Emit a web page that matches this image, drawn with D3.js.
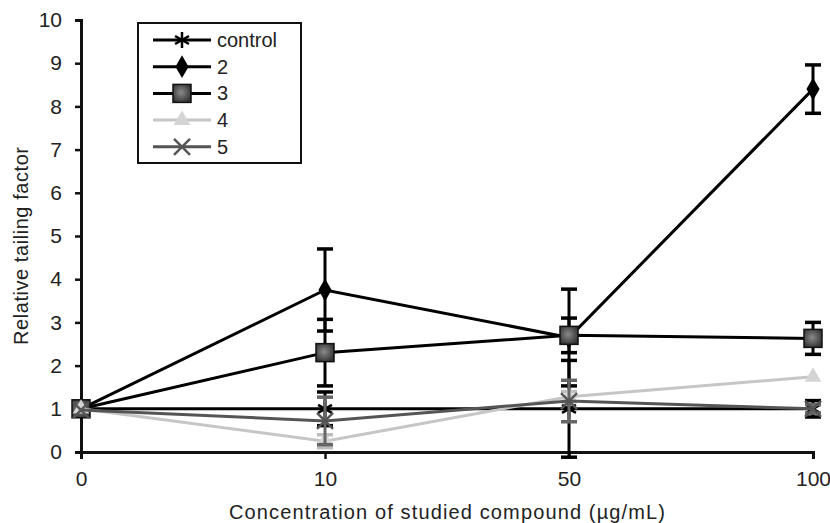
<!DOCTYPE html>
<html>
<head>
<meta charset="utf-8">
<script src="https://cdn.jsdelivr.net/npm/d3@7"></script>
<style>
  body { margin: 0; background: #fff; }
  text { font-family: "Liberation Sans", Arial, sans-serif; fill: #222; }
</style>
</head>
<body>
<div id="chart"></div>
<script>
// concentrations (categorical, equally spaced)
var concentrations = ["0", "10", "50", "100"];
var yTicks = [0, 1, 2, 3, 4, 5, 6, 7, 8, 9, 10];

var controlValues = [1, 1, 1, 1];
var controlErrors = [0, 0.39, 1.12, 0.19];
var s2Values = [1, 3.75, 2.65, 8.4];
var s2Errors = [0, 0.95, 1.12, 0.56];
var s3Values = [1, 2.3, 2.7, 2.63];
var s3Errors = [0, 0.77, 0.4, 0.37];
var s4Values = [1, 0.25, 1.28, 1.74];
var s4Errors = [0, 0.15, 0.12, 0];
var s5Values = [0.97, 0.72, 1.18, 1.0];
var s5Errors = [0, 0.55, 0.48, 0.1];

var seriesNames = ["control", "2", "3", "4", "5"];

var margin = {top: 20, right: 17, bottom: 71, left: 81};
var W = 830, H = 523;
var width = W - margin.left - margin.right;
var height = H - margin.top - margin.bottom;

var svg = d3.select("#chart").append("svg")
    .attr("width", W).attr("height", H);

var defs = svg.append("defs");
var grad = defs.append("radialGradient").attr("id", "sqGrad")
    .attr("cx", "45%").attr("cy", "45%").attr("r", "60%");
grad.append("stop").attr("offset", "0%").attr("stop-color", "#8a8a8a");
grad.append("stop").attr("offset", "100%").attr("stop-color", "#333");

var x = d3.scalePoint().domain(concentrations).range([0, width]);
var y = d3.scaleLinear().domain([0, 10]).range([height, 0]);

var plot = svg.append("g")
    .attr("transform", "translate(" + margin.left + "," + margin.top + ")");

// axes
var yAxis = plot.append("g")
    .call(d3.axisLeft(y).tickValues(yTicks).tickSize(6).tickPadding(13).tickFormat(d3.format("d")));
var xAxis = plot.append("g")
    .attr("transform", "translate(0," + height + ")")
    .call(d3.axisBottom(x).tickSize(7).tickPadding(12));
[yAxis, xAxis].forEach(function(a) {
    a.select(".domain").attr("stroke", "#111").attr("stroke-width", 3);
    a.selectAll(".tick line").attr("stroke", "#111").attr("stroke-width", 2.5);
    a.selectAll(".tick text").attr("font-size", 21).style("font-family", "Liberation Sans, Arial, sans-serif").attr("fill", "#222");
});

svg.append("text")
    .attr("transform", "translate(28," + (margin.top + height / 2 + 10) + ") rotate(-90)")
    .attr("text-anchor", "middle")
    .attr("font-size", 20)
    .attr("textLength", 198)
    .text("Relative tailing factor");
svg.append("text")
    .attr("x", margin.left + width / 2)
    .attr("y", 519)
    .attr("text-anchor", "middle")
    .attr("font-size", 20)
    .attr("textLength", 436)
    .text("Concentration of studied compound (\u00b5g/mL)");

var series = [
    {name: "control", values: controlValues, errors: controlErrors, line: "#000", bar: "#000", lw: 3, marker: "asterisk"},
    {name: "2", values: s2Values, errors: s2Errors, line: "#000", bar: "#000", lw: 3, marker: "diamond"},
    {name: "3", values: s3Values, errors: s3Errors, line: "#000", bar: "#000", lw: 3, marker: "square"},
    {name: "4", values: s4Values, errors: s4Errors, line: "#c6c6c6", bar: "#bdbdbd", lw: 3, marker: "triangle"},
    {name: "5", values: s5Values, errors: s5Errors, line: "#555", bar: "#666", lw: 3, marker: "cross"}
];

function drawMarker(g, type, color) {
    if (type === "asterisk") {
        [0, 60, 120].forEach(function(a) {
            g.append("line").attr("x1", 0).attr("y1", -8).attr("x2", 0).attr("y2", 8)
                .attr("transform", "rotate(" + a + ")")
                .attr("stroke", color).attr("stroke-width", 2.5);
        });
    } else if (type === "diamond") {
        g.append("path").attr("d", d3.symbol(d3.symbolDiamond, 150)()).attr("fill", "#000");
    } else if (type === "square") {
        g.append("rect").attr("x", -9).attr("y", -9).attr("width", 18).attr("height", 18)
            .attr("fill", "url(#sqGrad)").attr("stroke", "#111").attr("stroke-width", 1.5);
    } else if (type === "triangle") {
        g.append("path").attr("d", d3.symbol(d3.symbolTriangle, 120)()).attr("fill", "#d4d4d4");
    } else if (type === "cross") {
        g.append("line").attr("x1", -8).attr("y1", -8).attr("x2", 8).attr("y2", 8).attr("stroke", color).attr("stroke-width", 2.5);
        g.append("line").attr("x1", -8).attr("y1", 8).attr("x2", 8).attr("y2", -8).attr("stroke", color).attr("stroke-width", 2.5);
    }
}

var line = d3.line()
    .x(function(d, i) { return x(concentrations[i]); })
    .y(function(d) { return y(d); });

series.forEach(function(s) {
    var g = plot.append("g");
    g.append("path").datum(s.values)
        .attr("d", line)
        .attr("fill", "none")
        .attr("stroke", s.line)
        .attr("stroke-width", s.lw);

    // error bars
    s.values.forEach(function(v, i) {
        var e = s.errors[i];
        if (!e) return;
        var cx = x(concentrations[i]);
        g.append("line").attr("x1", cx).attr("x2", cx)
            .attr("y1", y(v - e)).attr("y2", y(v + e))
            .attr("stroke", s.bar).attr("stroke-width", 3);
        [v - e, v + e].forEach(function(c) {
            g.append("line").attr("x1", cx - 8).attr("x2", cx + 8)
                .attr("y1", y(c)).attr("y2", y(c))
                .attr("stroke", s.bar).attr("stroke-width", 3.5);
        });
    });

    s.values.forEach(function(v, i) {
        var m = g.append("g").attr("transform", "translate(" + x(concentrations[i]) + "," + y(v) + ")");
        drawMarker(m, s.marker, s.line);
    });
});

// legend
var legend = svg.append("g").attr("transform", "translate(138,23)");
legend.append("rect").attr("x", 0).attr("y", 0).attr("width", 163).attr("height", 140)
    .attr("fill", "#fff").attr("stroke", "#111").attr("stroke-width", 2);
series.forEach(function(s, i) {
    var row = legend.append("g").attr("transform", "translate(0," + (17 + i * 26.7) + ")");
    row.append("line").attr("x1", 15).attr("x2", 73).attr("y1", 0).attr("y2", 0)
        .attr("stroke", s.line).attr("stroke-width", s.lw);
    var m = row.append("g").attr("transform", "translate(44,0)");
    drawMarker(m, s.marker, s.line);
    row.append("text").attr("x", 79).attr("y", 7).attr("font-size", 20).text(seriesNames[i]);
});
</script>
</body>
</html>
